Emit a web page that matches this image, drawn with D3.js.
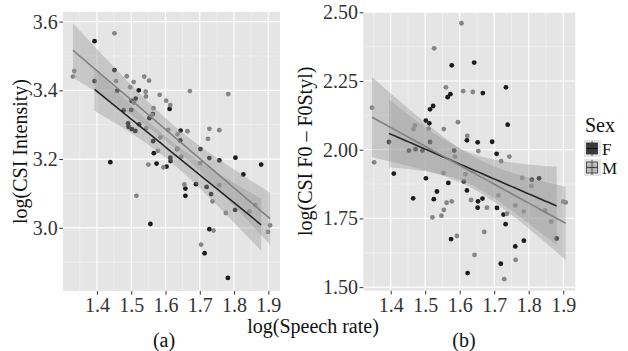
<!DOCTYPE html>
<html>
<head>
<meta charset="utf-8">
<script src="https://cdn.jsdelivr.net/npm/d3@7"></script>
<style>
  body { margin: 0; background: #fff; }
  svg { display: block; font-family: 'Liberation Serif', 'Times New Roman', serif; }
</style>
</head>
<body>
<div id="chart"></div>
<script>
// (a) log(Speech rate) vs log(CSI Intensity), [x, y]
const intensityF = [
  [1.393, 3.543], [1.393, 3.427], [1.451, 3.459], [1.459, 3.399], [1.522, 3.400],
  [1.513, 3.376], [1.501, 3.369], [1.612, 3.346], [1.563, 3.331], [1.491, 3.304],
  [1.492, 3.294], [1.502, 3.287], [1.512, 3.282], [1.523, 3.301], [1.553, 3.319],
  [1.564, 3.252], [1.566, 3.217], [1.574, 3.187], [1.603, 3.178], [1.644, 3.283],
  [1.643, 3.254], [1.634, 3.229], [1.614, 3.204], [1.615, 3.194], [1.702, 3.229],
  [1.728, 3.203], [1.757, 3.196], [1.804, 3.204], [1.879, 3.184], [1.827, 3.155],
  [1.439, 3.191], [1.556, 3.011], [1.658, 3.114], [1.658, 3.093], [1.689, 3.127],
  [1.720, 3.119], [1.733, 3.098], [1.728, 2.996], [1.714, 2.926], [1.782, 2.854],
  [1.803, 3.052], [1.478, 3.342], [1.500, 3.343]
];
const intensityM = [
  [1.330, 3.440], [1.334, 3.456], [1.451, 3.566], [1.456, 3.427], [1.487, 3.441],
  [1.497, 3.409], [1.507, 3.424], [1.538, 3.440], [1.552, 3.428], [1.542, 3.396],
  [1.543, 3.382], [1.583, 3.387], [1.602, 3.370], [1.614, 3.357], [1.671, 3.398],
  [1.783, 3.389], [1.565, 3.348], [1.550, 3.184], [1.594, 3.176], [1.585, 3.263],
  [1.608, 3.285], [1.664, 3.281], [1.635, 3.272], [1.646, 3.207], [1.701, 3.188],
  [1.724, 3.259], [1.728, 3.288], [1.757, 3.284], [1.515, 3.093], [1.655, 3.126],
  [1.737, 3.077], [1.757, 3.124], [1.740, 2.992], [1.704, 2.951], [1.776, 3.043],
  [1.845, 3.048], [1.862, 3.066], [1.899, 2.988], [1.905, 3.007], [1.560, 3.328],
  [1.544, 3.290], [1.578, 3.224], [1.635, 3.230], [1.508, 3.364]
];
// (b) log(Speech rate) vs log(CSI F0 - F0Styl), [x, y]
const f0F = [
  [1.395, 2.028], [1.409, 1.913], [1.577, 2.307], [1.642, 2.317], [1.573, 2.202],
  [1.565, 2.191], [1.667, 2.206], [1.734, 2.227], [1.739, 2.091], [1.523, 2.159],
  [1.514, 2.147], [1.502, 2.106], [1.512, 2.096], [1.514, 2.028], [1.453, 1.997],
  [1.472, 2.002], [1.492, 1.997], [1.584, 1.997], [1.621, 2.034], [1.652, 2.027],
  [1.694, 2.029], [1.707, 1.985], [1.502, 1.896], [1.809, 1.891], [1.830, 1.896],
  [1.465, 1.823], [1.525, 1.820], [1.534, 1.848], [1.567, 1.879], [1.575, 1.675],
  [1.612, 1.884], [1.621, 1.852], [1.653, 1.812], [1.666, 1.822], [1.652, 1.789],
  [1.623, 1.551], [1.708, 1.788], [1.727, 1.764], [1.733, 1.729], [1.719, 1.585],
  [1.761, 1.648], [1.786, 1.669], [1.881, 1.677]
];
const f0M = [
  [1.346, 2.153], [1.352, 1.954], [1.526, 2.369], [1.605, 2.460], [1.560, 2.227],
  [1.610, 2.213], [1.638, 2.210], [1.595, 2.100], [1.554, 2.075], [1.466, 2.075],
  [1.470, 2.088], [1.510, 2.077], [1.586, 1.975], [1.622, 2.050], [1.654, 1.995],
  [1.720, 1.958], [1.744, 1.975], [1.553, 1.915], [1.617, 1.911], [1.781, 1.897],
  [1.521, 1.754], [1.547, 1.760], [1.554, 1.781], [1.562, 1.807], [1.577, 1.812],
  [1.592, 1.686], [1.633, 1.817], [1.679, 1.789], [1.643, 1.617], [1.671, 1.701],
  [1.712, 1.833], [1.737, 1.767], [1.729, 1.529], [1.762, 1.599], [1.761, 1.797],
  [1.786, 1.775], [1.808, 1.868], [1.847, 1.779], [1.865, 1.738], [1.900, 1.811],
  [1.907, 1.808]
];

const sexes = ['F', 'M'];
const xTicks = [1.4, 1.5, 1.6, 1.7, 1.8, 1.9];
const yTicksA = [3.0, 3.2, 3.4, 3.6];
const yTicksB = [1.50, 1.75, 2.00, 2.25, 2.50];
const xDomainA = [1.301, 1.934];
const yDomainA = [2.816, 3.628];
const xDomainB = [1.3206, 1.935];
const yDomainB = [1.487, 2.501];

const width = 628;
const height = 351;
const pointColor = { F: '#1c1c1c', M: '#858585' };
const lineColor = { F: '#262626', M: '#828282' };

const panels = [
  {
    left: 63, right: 280, top: 12, bottom: 291,
    xDomain: xDomainA, yDomain: yDomainA, yTicks: yTicksA, fmt: d3.format('.1f'),
    series: { F: intensityF, M: intensityM },
    yTitle: 'log(CSI Intensity)', yTitleX: 27, tag: '(a)', tagX: 164
  },
  {
    left: 363.3, right: 575.3, top: 12, bottom: 290.7,
    xDomain: xDomainB, yDomain: yDomainB, yTicks: yTicksB, fmt: d3.format('.2f'),
    series: { F: f0F, M: f0M },
    yTitle: 'log(CSI F0 \u2013 F0Styl)', yTitleX: 312, tag: '(b)', tagX: 464
  }
];

// linear fit with 95% band, like geom_smooth(method = 'lm')
function linFit(pts, steps) {
  const n = pts.length;
  const mx = d3.mean(pts, d => d[0]);
  const my = d3.mean(pts, d => d[1]);
  const sxx = d3.sum(pts, d => (d[0] - mx) ** 2);
  const sxy = d3.sum(pts, d => (d[0] - mx) * (d[1] - my));
  const b = sxy / sxx;
  const a = my - b * mx;
  const s = Math.sqrt(d3.sum(pts, d => (d[1] - a - b * d[0]) ** 2) / (n - 2));
  const t = 2.02;
  const [x0, x1] = d3.extent(pts, d => d[0]);
  return d3.range(steps + 1).map(i => {
    const x = x0 + (x1 - x0) * i / steps;
    const y = a + b * x;
    const se = s * Math.sqrt(1 / n + (x - mx) ** 2 / sxx);
    return { x: x, y: y, lo: y - t * se, hi: y + t * se };
  });
}

function minorTicks(ticks, domain) {
  const step = ticks[1] - ticks[0];
  const out = [];
  for (let v = ticks[0] - step / 2; v <= domain[1]; v += step) {
    if (v >= domain[0]) out.push(v);
  }
  return out;
}

const svg = d3.select('#chart')
  .append('svg')
  .attr('width', width)
  .attr('height', height);

svg.append('rect').attr('width', width).attr('height', height).attr('fill', '#fff');

panels.forEach((p) => {
  const x = d3.scaleLinear().domain(p.xDomain).range([p.left, p.right]);
  const y = d3.scaleLinear().domain(p.yDomain).range([p.bottom, p.top]);
  const g = svg.append('g');

  g.append('rect')
    .attr('x', p.left).attr('y', p.top)
    .attr('width', p.right - p.left).attr('height', p.bottom - p.top)
    .attr('fill', '#e5e5e5');

  // grid
  g.selectAll('.vminor').data(minorTicks(xTicks, p.xDomain)).enter().append('line')
    .attr('x1', d => x(d)).attr('x2', d => x(d)).attr('y1', p.top).attr('y2', p.bottom)
    .attr('stroke', '#f4f4f4').attr('stroke-width', 0.6);
  g.selectAll('.hminor').data(minorTicks(p.yTicks, p.yDomain)).enter().append('line')
    .attr('y1', d => y(d)).attr('y2', d => y(d)).attr('x1', p.left).attr('x2', p.right)
    .attr('stroke', '#f4f4f4').attr('stroke-width', 0.6);
  g.selectAll('.vmajor').data(xTicks).enter().append('line')
    .attr('x1', d => x(d)).attr('x2', d => x(d)).attr('y1', p.top).attr('y2', p.bottom)
    .attr('stroke', '#fff').attr('stroke-width', 1.2);
  g.selectAll('.hmajor').data(p.yTicks).enter().append('line')
    .attr('y1', d => y(d)).attr('y2', d => y(d)).attr('x1', p.left).attr('x2', p.right)
    .attr('stroke', '#fff').attr('stroke-width', 1.2);

  // points
  sexes.forEach((s) => {
    g.append('g').selectAll('circle')
      .data(p.series[s]).enter().append('circle')
      .attr('cx', d => x(d[0])).attr('cy', d => y(d[1]))
      .attr('r', 2.4)
      .attr('fill', pointColor[s]);
  });

  // smooths
  const fits = sexes.map(s => ({ key: s, fit: linFit(p.series[s], 60) }));
  fits.forEach((f) => {
    g.append('path')
      .datum(f.fit)
      .attr('d', d3.area().x(d => x(d.x)).y0(d => y(d.lo)).y1(d => y(d.hi)))
      .attr('fill', '#999999')
      .attr('fill-opacity', 0.4);
  });
  fits.forEach((f) => {
    g.append('path')
      .datum(f.fit)
      .attr('d', d3.line().x(d => x(d.x)).y(d => y(d.y)))
      .attr('fill', 'none')
      .attr('stroke', lineColor[f.key])
      .attr('stroke-width', 1.6);
  });

  // axes
  const xAxis = g.append('g')
    .attr('transform', `translate(0, ${p.bottom})`)
    .call(d3.axisBottom(x).tickValues(xTicks).tickFormat(d3.format('.1f')).tickSize(3.7).tickPadding(3));
  const yAxis = g.append('g')
    .attr('transform', `translate(${p.left}, 0)`)
    .call(d3.axisLeft(y).tickValues(p.yTicks).tickFormat(p.fmt).tickSize(3.7).tickPadding(1.5));
  [xAxis, yAxis].forEach((a) => {
    a.select('.domain').remove();
    a.selectAll('line').attr('stroke', '#333');
    a.selectAll('text')
      .attr('fill', '#333')
      .attr('font-size', 20)
      .attr('font-family', "'Liberation Serif', serif");
  });

  svg.append('text')
    .attr('transform', `translate(${p.yTitleX}, ${(p.top + p.bottom) / 2}) rotate(-90)`)
    .attr('text-anchor', 'middle')
    .attr('font-size', 20)
    .attr('fill', '#111')
    .text(p.yTitle);

  svg.append('text')
    .attr('x', p.tagX).attr('y', 347)
    .attr('text-anchor', 'middle')
    .attr('font-size', 20)
    .attr('fill', '#111')
    .text(p.tag);
});

svg.append('text')
  .attr('x', 313).attr('y', 333)
  .attr('text-anchor', 'middle')
  .attr('font-size', 20)
  .attr('fill', '#111')
  .text('log(Speech rate)');

// legend
const legend = svg.append('g').attr('transform', 'translate(584, 0)');
legend.append('text')
  .attr('x', 1).attr('y', 132)
  .attr('font-size', 20)
  .attr('fill', '#111')
  .text('Sex');

const keyFill = { F: '#3a3a3a', M: '#bdbdbd' };
const keys = legend.selectAll('.key').data(sexes).enter().append('g')
  .attr('transform', (d, i) => `translate(0, ${140 + i * 19})`);
keys.append('rect')
  .attr('width', 17).attr('height', 17)
  .attr('fill', '#e5e5e5');
keys.append('rect')
  .attr('x', 2.5).attr('y', 3).attr('width', 11).attr('height', 11)
  .attr('fill', d => keyFill[d])
  .attr('stroke', '#333').attr('stroke-width', 0.8);
keys.append('line')
  .attr('x1', 2.5).attr('x2', 13.5).attr('y1', 8.5).attr('y2', 8.5)
  .attr('stroke', d => d === 'F' ? '#111' : '#444').attr('stroke-width', 1.2);
keys.append('line')
  .attr('x1', 8).attr('x2', 8).attr('y1', 1).attr('y2', 16)
  .attr('stroke', '#333').attr('stroke-width', 0.8);
keys.append('text')
  .attr('x', 18).attr('y', 14.5)
  .attr('font-size', 17)
  .attr('fill', '#111')
  .text(d => d);
</script>
</body>
</html>
